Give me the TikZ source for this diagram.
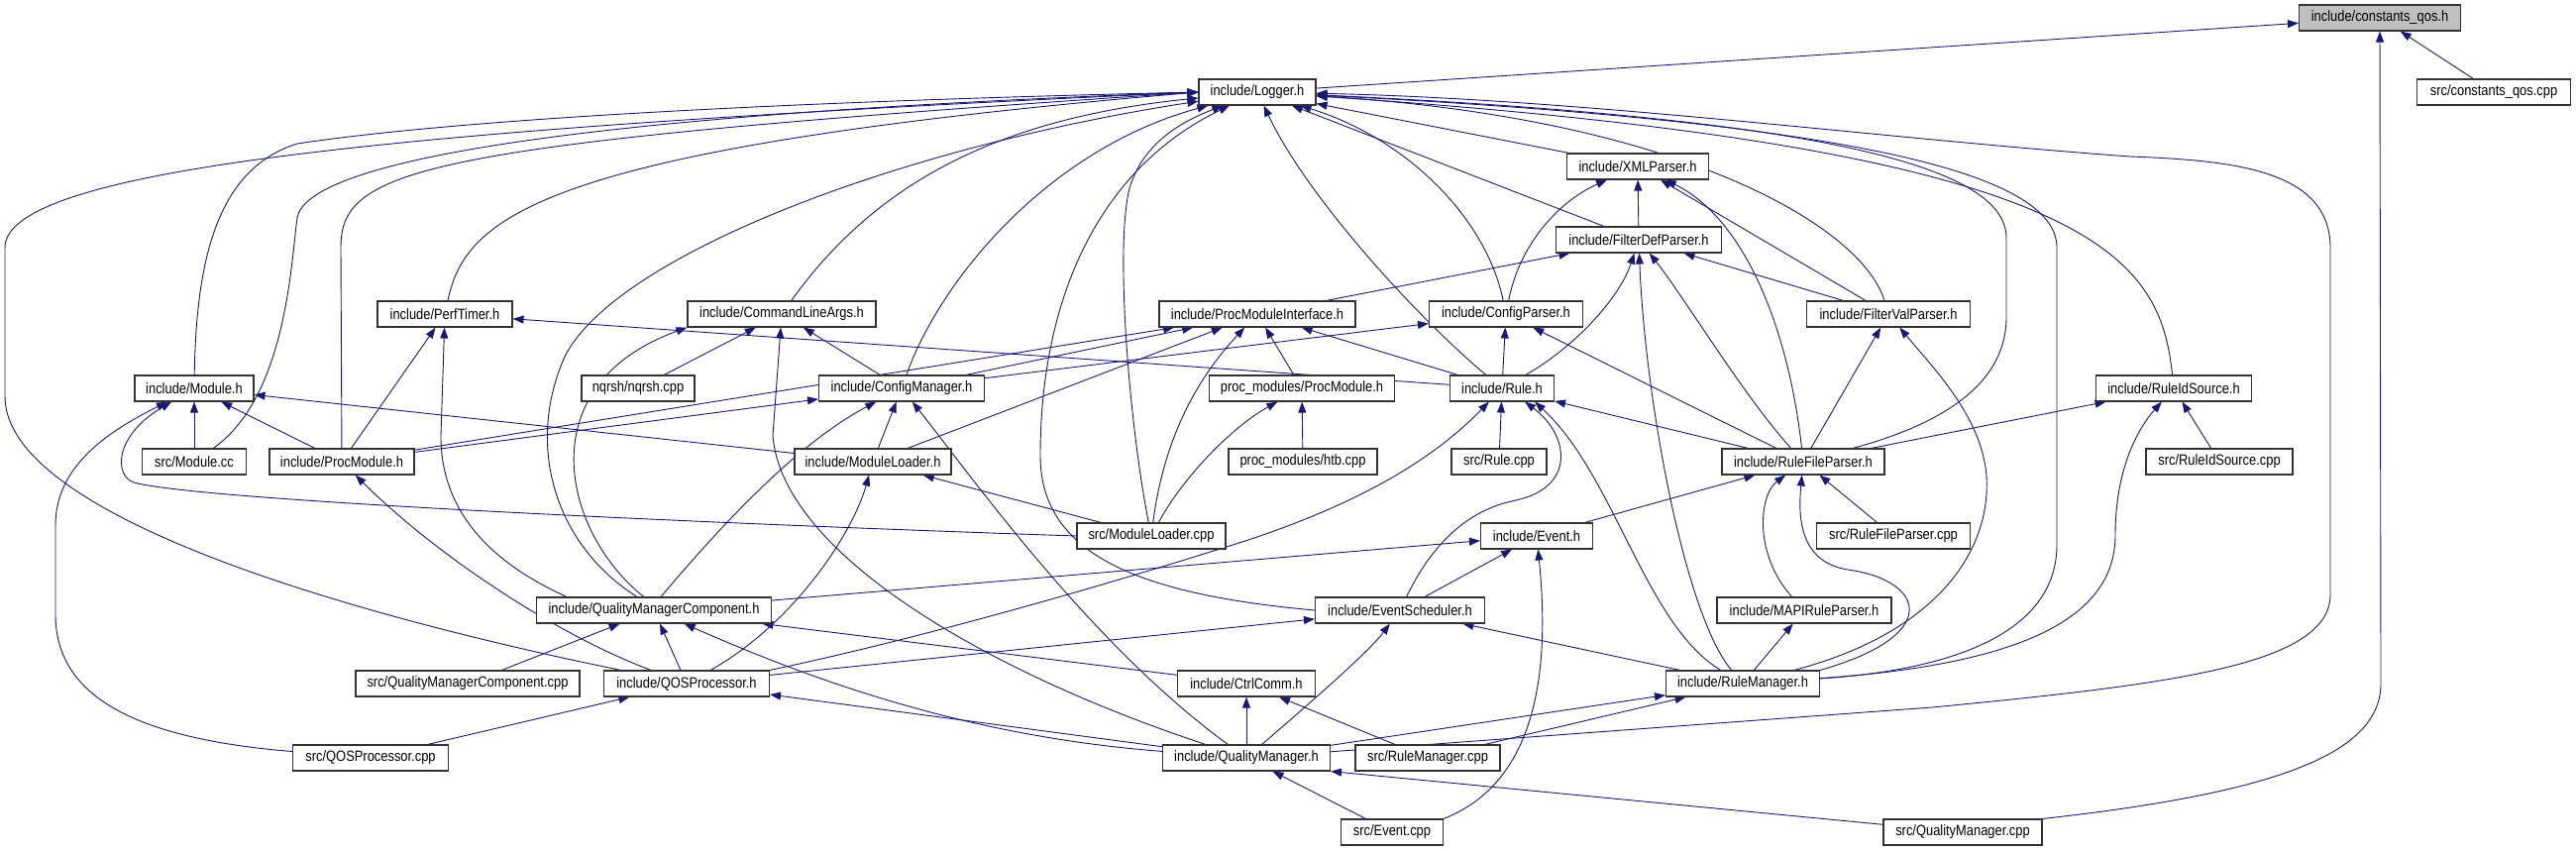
\documentclass[tikz,border=0pt]{standalone}
\usepackage{fontspec}
\setmainfont{Liberation Sans}[FakeStretch=0.86]
\usetikzlibrary{arrows.meta}
\definecolor{edgeblue}{HTML}{191970}
\definecolor{rootgray}{HTML}{BFBFBF}
\pgfdeclarelayer{edges}
\pgfsetlayers{edges,main}

\begin{document}
\begin{tikzpicture}[
    x=1pt, y=-1pt,
    font=\fontsize{15}{17}\selectfont,
    file/.style={
        draw=black!80,
        fill=white,
        line width=1.1pt,
        minimum height=26pt,
        inner sep=0pt,
        text=black
    },
    rootfile/.style={file, fill=rootgray},
    incl/.style={-{Triangle[length=11pt,width=8pt]}, line width=0.9pt, draw=edgeblue}
]
\useasboundingbox (0,0) rectangle (2600,859);

\node[rootfile, minimum width=163pt] (cqh) at (2402,18) {include/constants\_qos.h};
\node[file, minimum width=155pt] (cqcpp) at (2517,93) {src/constants\_qos.cpp};
\node[file, minimum width=118pt] (logger) at (1269,93) {include/Logger.h};
\node[file, minimum width=143pt] (xml) at (1653,168) {include/XMLParser.h};
\node[file, minimum width=167pt] (fdp) at (1654,242) {include/FilterDefParser.h};
\node[file, minimum width=136pt] (perf) at (449,317) {include/PerfTimer.h};
\node[file, minimum width=190pt] (cla) at (789,317) {include/CommandLineArgs.h};
\node[file, minimum width=198pt] (pmi) at (1269,317) {include/ProcModuleInterface.h};
\node[file, minimum width=155pt] (cfgp) at (1520,317) {include/ConfigParser.h};
\node[file, minimum width=165pt] (fvp) at (1906,317) {include/FilterValParser.h};
\node[file, minimum width=120pt] (module) at (196,392) {include/Module.h};
\node[file, minimum width=114pt] (nqrsh) at (644,392) {nqrsh/nqrsh.cpp};
\node[file, minimum width=167pt] (cfgm) at (910,392) {include/ConfigManager.h};
\node[file, minimum width=187pt] (pmod) at (1314,392) {proc\_modules/ProcModule.h};
\node[file, minimum width=105pt] (rule) at (1516,392) {include/Rule.h};
\node[file, minimum width=157pt] (ruleid) at (2194,392) {include/RuleIdSource.h};
\node[file, minimum width=105pt] (modcc) at (196,466) {src/Module.cc};
\node[file, minimum width=146pt] (procmod) at (345,466) {include/ProcModule.h};
\node[file, minimum width=158pt] (modld) at (881,466) {include/ModuleLoader.h};
\node[file, minimum width=150pt] (htb) at (1315,466) {proc\_modules/htb.cpp};
\node[file, minimum width=96pt] (rulecpp) at (1513,466) {src/Rule.cpp};
\node[file, minimum width=164pt] (rfp) at (1820,466) {include/RuleFileParser.h};
\node[file, minimum width=148pt] (ruleidcpp) at (2240,466) {src/RuleIdSource.cpp};
\node[file, minimum width=150pt] (modldcpp) at (1162,541) {src/ModuleLoader.cpp};
\node[file, minimum width=113pt] (event) at (1551,541) {include/Event.h};
\node[file, minimum width=155pt] (rfpcpp) at (1911,541) {src/RuleFileParser.cpp};
\node[file, minimum width=237pt] (qmc) at (660,616) {include/QualityManagerComponent.h};
\node[file, minimum width=171pt] (evsch) at (1413,616) {include/EventScheduler.h};
\node[file, minimum width=176pt] (mapi) at (1821,616) {include/MAPIRuleParser.h};
\node[file, minimum width=226pt] (qmccpp) at (472,690) {src/QualityManagerComponent.cpp};
\node[file, minimum width=167pt] (qosp) at (693,690) {include/QOSProcessor.h};
\node[file, minimum width=139pt] (ctrl) at (1258,690) {include/CtrlComm.h};
\node[file, minimum width=155pt] (rulemgr) at (1759,690) {include/RuleManager.h};
\node[file, minimum width=157pt] (qospcpp) at (374,765) {src/QOSProcessor.cpp};
\node[file, minimum width=169pt] (qm) at (1258,765) {include/QualityManager.h};
\node[file, minimum width=146pt] (rmcpp) at (1441,765) {src/RuleManager.cpp};
\node[file, minimum width=103pt] (eventcpp) at (1405,840) {src/Event.cpp};
\node[file, minimum width=160pt] (qmcpp) at (1981,840) {src/QualityManager.cpp};

\begin{pgfonlayer}{edges}
\draw[incl] (logger) -- (cqh);
\draw[incl] (cqcpp) -- (cqh);
\draw[incl] (qmcpp.north east) .. controls (2300,800) and (2403,760) .. (2403,690) -- (cqh.south);

\draw[incl] (qosp) .. controls (350,620) and (5,520) .. (5,400) -- (5,250) .. controls (5,170) and (400,130) .. (logger.west);
\draw[incl] (module) .. controls (198,260) and (220,170) .. (300,145) .. controls (500,115) and (900,100) .. (logger.west);
\draw[incl] (modcc) .. controls (290,400) and (294,260) .. (300,220) .. controls (310,160) and (600,115) .. (logger.west);
\draw[incl] (procmod) -- (344,250) .. controls (344,170) and (420,145) .. (logger.west);
\draw[incl] (perf) .. controls (470,220) and (540,150) .. (logger.west);
\draw[incl] (cla) .. controls (880,190) and (1000,120) .. (logger);
\draw[incl] ([xshift=-17pt]qmc.north) .. controls (560,550) and (530,450) .. (570,360) .. controls (620,260) and (900,150) .. (logger);
\draw[incl] (cfgm) .. controls (950,280) and (1060,150) .. (logger);
\draw[incl] (modldcpp) .. controls (1140,430) and (1125,250) .. (1140,190) .. controls (1155,140) and (1200,120) .. (logger);
\draw[incl] (evsch.west) .. controls (1150,600) and (1050,560) .. (1050,460) .. controls (1050,300) and (1110,170) .. (logger);
\draw[incl] (rule) .. controls (1430,320) and (1320,200) .. (logger);
\draw[incl] (cfgp) .. controls (1500,220) and (1420,140) .. (logger);
\draw[incl] (fdp) -- (logger);
\draw[incl] (xml) -- (logger);
\draw[incl] (fvp) .. controls (1880,230) and (1700,120) .. (logger);
\draw[incl] (rfp) .. controls (1990,420) and (2025,370) .. (2025,320) -- (2025,240) .. controls (2025,170) and (1850,120) .. (logger);
\draw[incl] (ruleid) .. controls (2180,260) and (2120,150) .. (logger);
\draw[incl] (rulemgr) .. controls (1990,675) and (2076,630) .. (2076,550) -- (2076,250) .. controls (2076,180) and (1900,125) .. (logger);
\draw[incl] (qm) -- (1950,714) .. controls (2200,690) and (2352,670) .. (2352,600) -- (2352,250) .. controls (2352,170) and (2250,162) .. (2150,158) .. controls (1900,140) and (1600,100) .. (logger);

\draw[incl] (procmod) -- (perf);
\draw[incl] ([xshift=-88pt]qmc.north) .. controls (500,570) and (445,520) .. (445,440) -- (perf);
\draw[incl] (rule) -- (perf);

\draw[incl] (nqrsh) -- (cla);
\draw[incl] ([xshift=-10pt]qmc.north) .. controls (570,540) and (530,390) .. (cla.south west);
\draw[incl] (qm) .. controls (1000,680) and (790,560) .. (780,440) -- (cla);
\draw[incl] (cfgm) -- (cla);

\draw[incl] (qospcpp) .. controls (130,745) and (56,700) .. (56,620) -- (56,530) .. controls (56,470) and (110,435) .. (module);
\draw[incl] (modldcpp.west) .. controls (700,528) and (200,505) .. (135,487) .. controls (115,480) and (115,440) .. (module);
\draw[incl] (modcc) -- (module);
\draw[incl] (procmod) -- (module);
\draw[incl] (modld) -- (module);

\draw[incl] (qosp) .. controls (560,640) and (440,560) .. (procmod);

\draw[incl] (procmod) -- (pmi);
\draw[incl] (cfgm) -- (pmi);
\draw[incl] (modld) -- (pmi);
\draw[incl] (modldcpp) .. controls (1175,440) and (1210,380) .. (pmi);
\draw[incl] (pmod) -- (pmi);
\draw[incl] (rule) -- (pmi);

\draw[incl] (procmod) -- (cfgm);
\draw[incl] ([xshift=7pt]qmc.north) .. controls (720,540) and (800,450) .. (cfgm);
\draw[incl] (modld) -- (cfgm);
\draw[incl] (qm) .. controls (1100,650) and (980,480) .. (cfgm);
\draw[incl] (cfgm) -- (cfgp);

\draw[incl] (htb) -- (pmod);
\draw[incl] (modldcpp) .. controls (1195,480) and (1245,430) .. (pmod);

\draw[incl] (modldcpp) -- (modld);
\draw[incl] (qosp) .. controls (800,630) and (860,540) .. (modld);

\draw[incl] (rule) -- (cfgp);
\draw[incl] (rfp) -- (cfgp);
\draw[incl] (cfgp) .. controls (1535,240) and (1580,200) .. (xml);

\draw[incl] (fdp) -- (xml);
\draw[incl] (rfp) .. controls (1805,330) and (1760,220) .. (xml);
\draw[incl] (fvp) -- (xml);

\draw[incl] (pmi) -- (fdp);
\draw[incl] (rule) .. controls (1590,350) and (1635,300) .. (fdp);
\draw[incl] (rulemgr) .. controls (1700,620) and (1660,400) .. (fdp);
\draw[incl] (rfp) .. controls (1760,400) and (1700,300) .. (fdp);
\draw[incl] (fvp) -- (fdp);

\draw[incl] (rfp) -- (fvp);
\draw[incl] (rulemgr) .. controls (1950,640) and (2010,560) .. (2005,480) .. controls (2000,420) and (1950,370) .. (fvp);

\draw[incl] (qosp.north east) .. controls (950,640) and (1150,580) .. (1260,545) .. controls (1380,505) and (1450,460) .. (rule);
\draw[incl] (rulecpp) -- (rule);
\draw[incl] (evsch) .. controls (1445,550) and (1480,515) .. (1530,505) .. controls (1590,492) and (1585,440) .. ([xshift=-30pt]rule.south east);
\draw[incl] (rulemgr) .. controls (1660,630) and (1630,480) .. ([xshift=-20pt]rule.south east);
\draw[incl] (rfp) -- (rule);

\draw[incl] (event) -- (rfp);
\draw[incl] (mapi) .. controls (1770,560) and (1775,500) .. (rfp);
\draw[incl] (rulemgr.north east) .. controls (1965,640) and (1940,585) .. (1865,575) .. controls (1815,567) and (1815,520) .. (rfp);
\draw[incl] (rfpcpp) -- (rfp);
\draw[incl] (rfp) -- (ruleid);

\draw[incl] (rulemgr) .. controls (2050,670) and (2135,620) .. (2135,540) .. controls (2135,470) and (2160,430) .. (ruleid);
\draw[incl] (ruleidcpp) -- (ruleid);

\draw[incl] (rulemgr) -- (mapi);

\draw[incl] (qmc) -- (event);
\draw[incl] (evsch) -- (event);
\draw[incl] (eventcpp.north east) .. controls (1550,790) and (1565,680) .. (event);

\draw[incl] (qosp) -- (evsch);
\draw[incl] (qm) .. controls (1310,720) and (1380,660) .. (evsch);
\draw[incl] (rulemgr) -- (evsch);

\draw[incl] (qmccpp) -- (qmc);
\draw[incl] (qosp) -- (qmc);
\draw[incl] (qm) .. controls (1000,745) and (850,700) .. (qmc);
\draw[incl] (ctrl) -- (qmc);

\draw[incl] (qospcpp) -- (qosp);
\draw[incl] (qm) -- (qosp);

\draw[incl] (qm) -- (ctrl);
\draw[incl] (rmcpp) -- (ctrl);

\draw[incl] (qm) -- (rulemgr);
\draw[incl] (rmcpp) -- (rulemgr);

\draw[incl] (eventcpp) -- (qm);
\draw[incl] (qmcpp) -- (qm.south east);
\end{pgfonlayer}
\end{tikzpicture}
\end{document}
